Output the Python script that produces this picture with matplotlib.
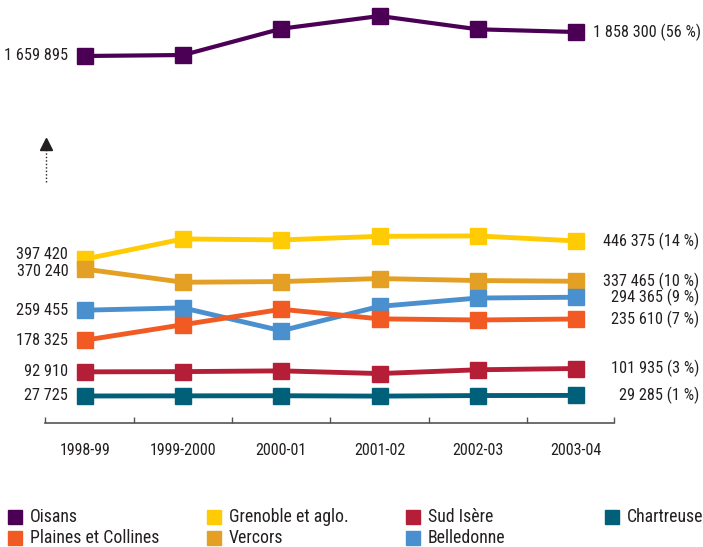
import matplotlib.pyplot as plt
from matplotlib.lines import Line2D

plt.rcParams['font.family'] = ['Roboto Condensed', 'DejaVu Sans']

# saisons et effectifs par massif
seasons = ['1998-99', '1999-2000', '2000-01', '2001-02', '2002-03', '2003-04']

oisans = [1659895, 1668000, 1885600, 1990600, 1880600, 1858300]
grenoble = [397420, 451800, 449100, 458800, 459900, 446375]
vercors = [370240, 334800, 336700, 344800, 339400, 337465]
belledonne = [259455, 265600, 203900, 269700, 292200, 294365]
plaines = [178325, 220200, 261800, 236000, 232900, 235610]
sud_isere = [92910, 93500, 95600, 88300, 98500, 101935]
chartreuse = [27725, 28100, 28400, 27400, 28900, 29285]

names = ['Oisans', 'Grenoble et aglo.', 'Vercors', 'Belledonne',
         'Plaines et Collines', 'Sud Isère', 'Chartreuse']
series = [oisans, grenoble, vercors, belledonne, plaines, sud_isere, chartreuse]
shares = [56, 14, 10, 9, 7, 3, 1]
colors = ['#4b0055', '#ffcb05', '#e3a024', '#4a90ce',
          '#f15a22', '#b51e37', '#00607a']

TXT = '#231f20'
LBL = 11.7


def fmt(v):
    return f'{v:,}'.replace(',', ' ')


fig = plt.figure(figsize=(7.03, 5.47), dpi=100)
ax_top = fig.add_axes([0.064, 0.8629, 0.8094, 0.1371])
ax = fig.add_axes([0.064, 0.2267, 0.8094, 0.4077])

x = list(range(len(seasons)))
xlim = (-0.407, 5.387)

# Oisans on its own panel (broken axis)
ax_top.plot(x, oisans, color=colors[0], lw=3, marker='s', ms=11.5,
            mec=colors[0])
ax_top.set_xlim(xlim)
ax_top.set_ylim(1502800, 2122850)
ax_top.axis('off')
ax_top.annotate(fmt(oisans[0]), (0, oisans[0]), xytext=(-12, 0),
                textcoords='offset points', ha='right', va='center',
                fontsize=LBL, color=TXT)
ax_top.annotate(f'{fmt(oisans[-1])} ({shares[0]} %)', (5, oisans[-1]),
                xytext=(12.5, 0), textcoords='offset points', ha='left',
                va='center', fontsize=LBL, color=TXT)

# the other massifs
nudge = {'Grenoble et aglo.': 3, 'Vercors': -2}
for name, vals, share, c in zip(names[1:], series[1:], shares[1:], colors[1:]):
    ax.plot(x, vals, color=c, lw=3.5, marker='s', ms=11.5, mec=c)
    ax.annotate(fmt(vals[0]), (0, vals[0]), xytext=(-12, nudge.get(name, 0)),
                textcoords='offset points', ha='right', va='center',
                fontsize=LBL, color=TXT)
    ax.annotate(f'{fmt(vals[-1])} ({share} %)', (5, vals[-1]),
                xytext=(89, 0), textcoords='offset points', ha='right',
                va='center', fontsize=LBL, color=TXT)

ax.set_xlim(xlim)
ax.set_ylim(-45175, 556925)
ax.set_yticks([])
for s in ['left', 'right', 'top']:
    ax.spines[s].set_visible(False)
ax.spines['bottom'].set_color('#555555')
ax.spines['bottom'].set_linewidth(1.2)
ax.set_xticks(x, seasons, fontsize=11.5, color=TXT)
ax.set_xticks([xlim[0], 0.5, 1.5, 2.5, 3.5, 4.5, xlim[1]], minor=True)
ax.tick_params(axis='x', which='major', length=0, pad=14.5)
ax.tick_params(axis='x', which='minor', direction='in', length=4,
               width=1, color='#555555')

# dotted arrow marking the axis break
fig.add_artist(Line2D([0.0654, 0.0654], [0.667, 0.727],
                      transform=fig.transFigure, color=TXT, lw=1,
                      ls=(0, (1, 1.5))))
fig.add_artist(Line2D([0.0654], [0.737], transform=fig.transFigure,
                      marker='^', ms=9, color=TXT, lw=0))

# legend, four columns
legend_pos = {'Oisans': (0, 0), 'Plaines et Collines': (0, 1),
              'Grenoble et aglo.': (1, 0), 'Vercors': (1, 1),
              'Sud Isère': (2, 0), 'Belledonne': (2, 1),
              'Chartreuse': (3, 0)}
for name, c in zip(names, colors):
    col, row = legend_pos[name]
    lx = (15 + 199 * col) / 703
    ly = 1 - (517 + 21 * row) / 547
    fig.add_artist(Line2D([lx], [ly], transform=fig.transFigure, marker='s',
                          ms=10, color=c, lw=0))
    fig.text(lx + 15 / 703, ly, name, ha='left', va='center',
             fontsize=12.8, color=TXT)

fig.savefig('out.png', dpi=100)
